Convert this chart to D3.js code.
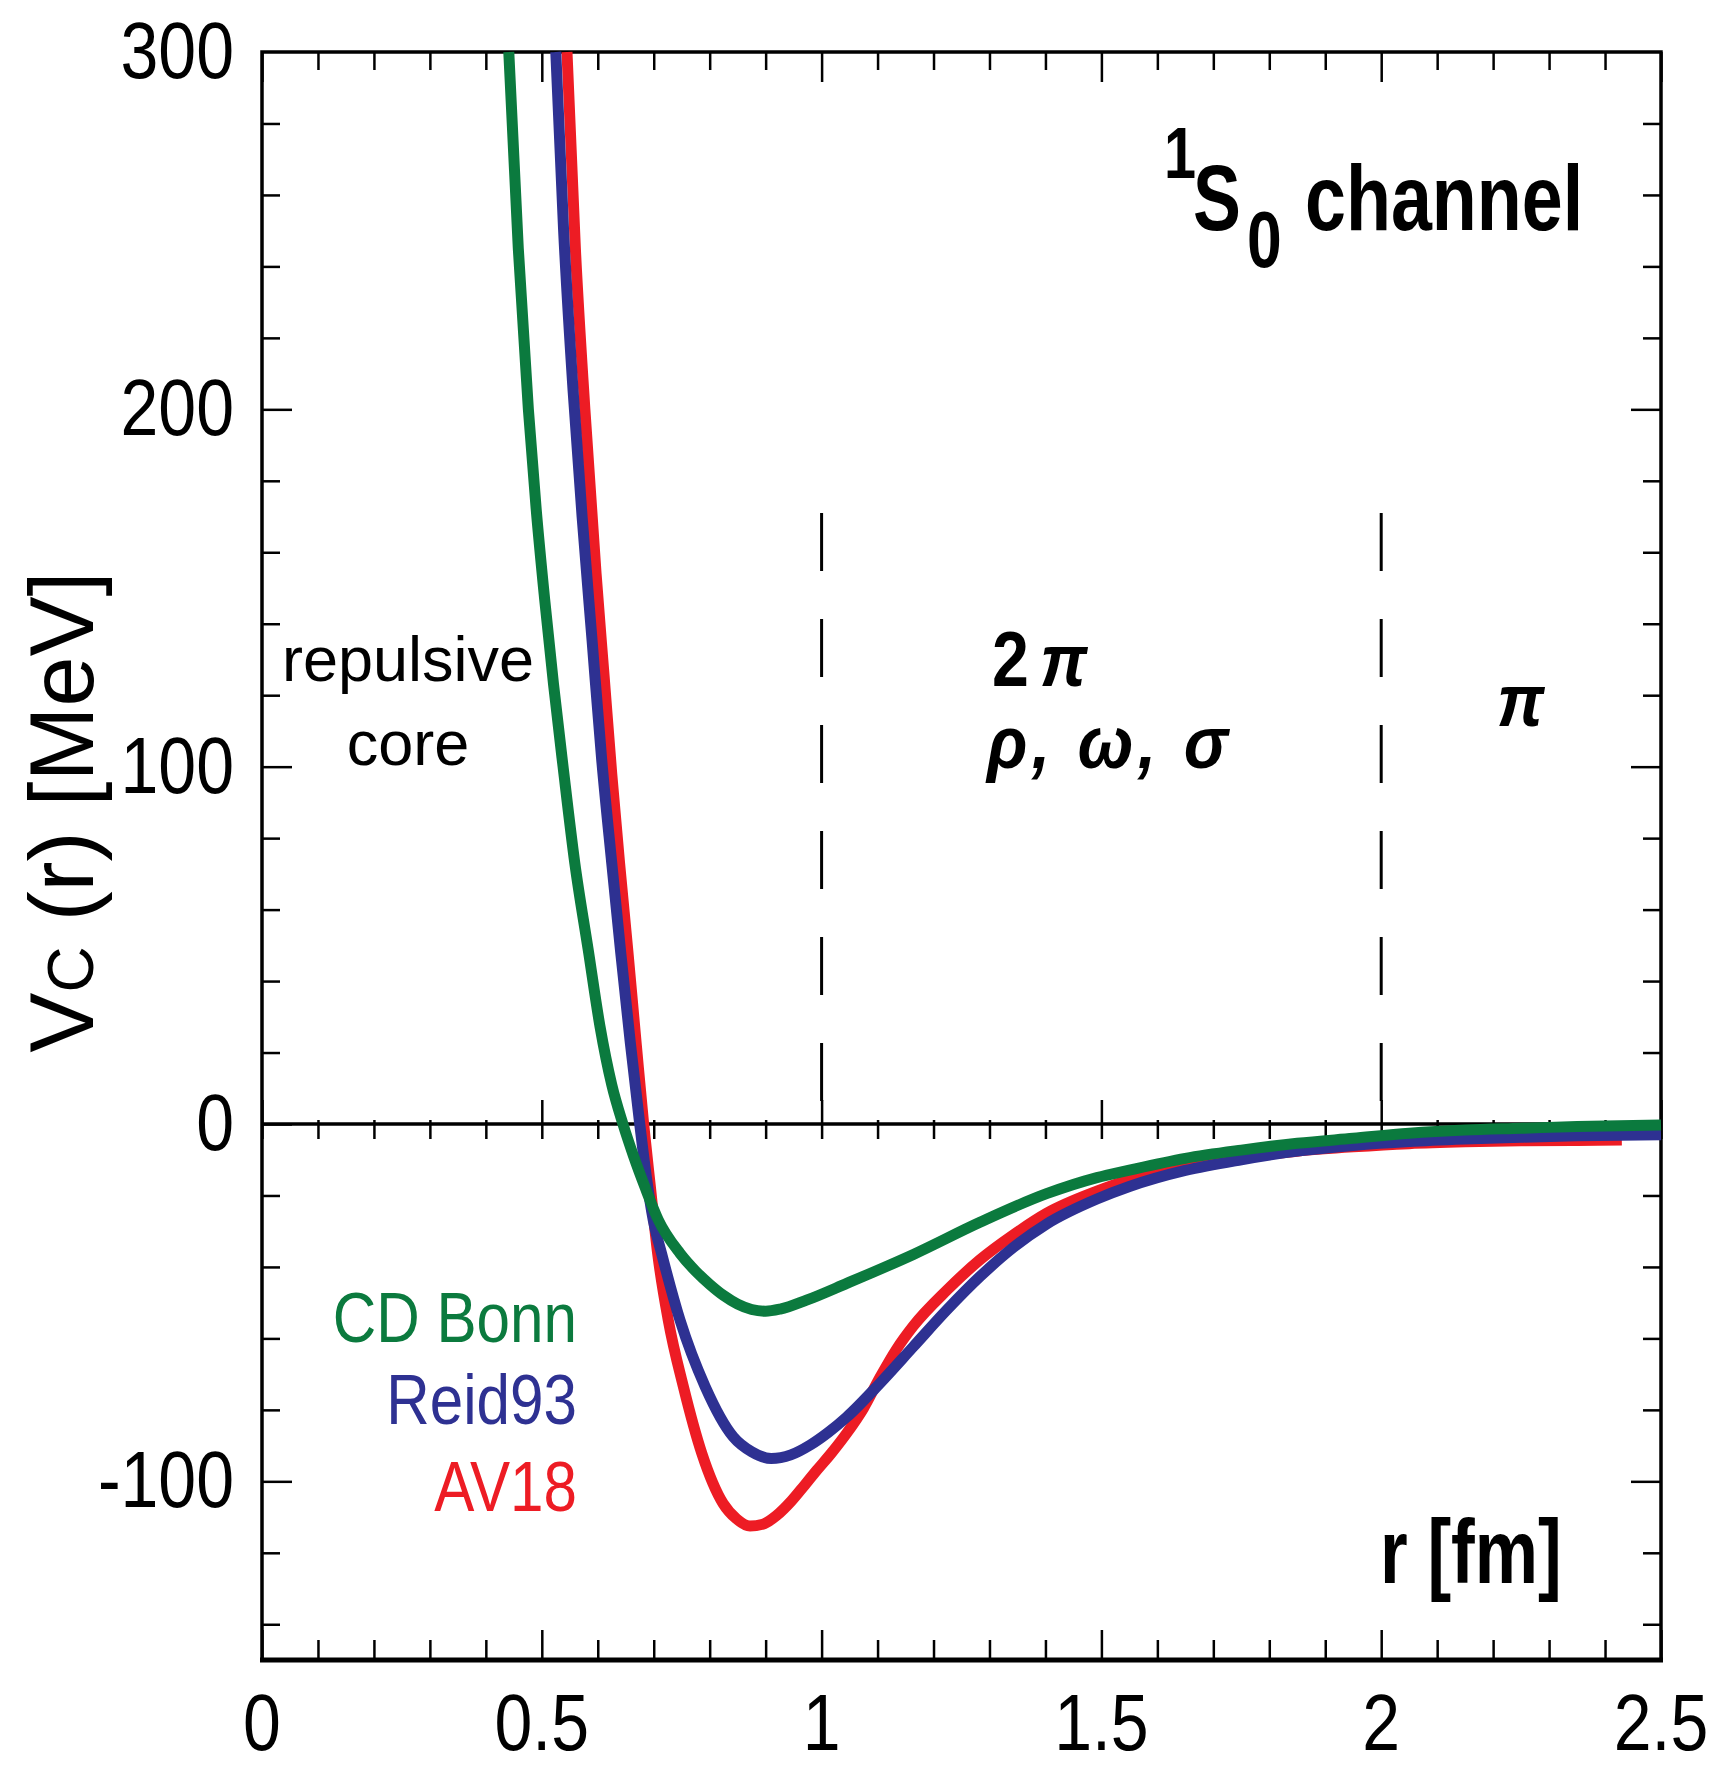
<!DOCTYPE html>
<html><head><meta charset="utf-8">
<script src="https://cdn.jsdelivr.net/npm/d3@7"></script>
<style>body{margin:0;background:#fff}</style>
</head><body>
<svg id="chart" width="1731" height="1771"></svg>
<script>
// ---------- data ----------
const cdBonnR = [0.441,0.458,0.476,0.490,0.505,0.521,0.538,0.559,0.583,0.604,0.625,0.645,0.664,0.684,0.708,0.747,0.775,0.801,0.825,0.850,0.875,0.900,0.926,0.973,1.045,1.164,1.283,1.402,1.492,1.55,1.65,1.75,1.85,1.95,2.05,2.15,2.25,2.35,2.50];
const cdBonnV = [300,245,200,172,147,123,100,73,48.7,27.3,11,0,-9,-17.5,-26.8,-36.2,-41.2,-45,-48,-50.4,-51.9,-52.4,-51.8,-49.3,-44.6,-36.5,-27.5,-19.5,-15,-12.9,-9.6,-7.3,-5.4,-4.0,-2.6,-1.7,-1.2,-0.7,-0.3];
const reid93R = [0.525,0.539,0.556,0.572,0.590,0.607,0.625,0.641,0.658,0.675,0.687,0.699,0.714,0.747,0.792,0.842,0.875,0.910,0.945,0.980,1.012,1.045,1.104,1.164,1.224,1.283,1.343,1.402,1.492,1.55,1.65,1.75,1.85,1.95,2.05,2.15,2.25,2.35,2.50];
const reid93V = [300,250,205,170,135,102,73,48,23,0,-15,-26.8,-36.2,-54.9,-73.5,-87.5,-91.7,-93.6,-92.6,-89.8,-86.3,-82,-72.6,-62.3,-52,-42.7,-34.5,-28,-21,-17.5,-13,-10,-7.6,-6.0,-4.9,-4.2,-3.7,-3.3,-3.0];
const av18R = [0.545,0.560,0.577,0.597,0.611,0.625,0.639,0.654,0.669,0.682,0.694,0.707,0.726,0.753,0.786,0.824,0.848,0.872,0.895,0.920,0.946,0.970,0.991,1.018,1.045,1.075,1.104,1.134,1.164,1.224,1.283,1.343,1.402,1.492,1.55,1.65,1.75,1.85,1.95,2.05,2.15,2.25,2.35,2.43];
const av18V = [300,245,200,154,126,98,73,48,22,0,-17.5,-36.2,-54.9,-73.5,-92.2,-106.2,-110.5,-112.5,-112,-109.5,-105.5,-101,-97,-92,-86.5,-79.5,-71,-63,-56.5,-46.5,-38,-31,-25,-18.8,-15.6,-12,-9.4,-7.6,-6.4,-5.5,-5.0,-4.7,-4.6,-4.5];

const seriesNames = ["CD Bonn","Reid93","AV18"];
const seriesColors = ["#0b7a3e","#2e3192","#ed1c24"];

const xTickValues = [0,0.5,1,1.5,2,2.5];
const xTickLabels = ["0","0.5","1","1.5","2","2.5"];
const yTickValues = [-100,0,100,200,300];
const yTickLabels = ["-100","0","100","200","300"];
const regionBounds = [1,2];
const regionTop = 171;

// ---------- layout ----------
const m = {left:262, right:1661, top:52, bottom:1660};
const x = d3.scaleLinear().domain([0,2.5]).range([m.left,m.right]);
const y = d3.scaleLinear().domain([-150,300]).range([m.bottom,m.top]);
const svg = d3.select('#chart');
const FONT = "'Liberation Sans', Arial, Helvetica, sans-serif";

const xMinor = d3.range(0,26).filter(i=>i%5!==0).map(i=>i/10);
const yMinor = d3.range(-140,301,20).filter(v=>v%100!==0);
const yMajor = [-100,0,100,200];

function axisG(axis, tx, ty, sw){
  const g = svg.append('g').attr('transform',`translate(${tx},${ty})`).call(axis);
  g.select('.domain').remove();
  g.selectAll('line').attr('stroke','#000').attr('stroke-width',sw||2.5);
  g.selectAll('text').remove();
  return g;
}
// bottom
axisG(d3.axisBottom(x).tickValues(xMinor).tickSize(-20).tickFormat(''),0,m.bottom);
axisG(d3.axisBottom(x).tickValues(xTickValues).tickSize(-30).tickFormat(''),0,m.bottom);
// top
axisG(d3.axisTop(x).tickValues(xMinor).tickSize(-18).tickFormat(''),0,m.top);
axisG(d3.axisTop(x).tickValues(xTickValues).tickSize(-30).tickFormat(''),0,m.top);
// left
axisG(d3.axisLeft(y).tickValues(yMinor).tickSize(-18).tickFormat(''),m.left,0);
axisG(d3.axisLeft(y).tickValues(yMajor).tickSize(-30).tickFormat(''),m.left,0);
// right
axisG(d3.axisRight(y).tickValues(yMinor).tickSize(-18).tickFormat(''),m.right,0);
axisG(d3.axisRight(y).tickValues(yMajor).tickSize(-30).tickFormat(''),m.right,0);

// zero line with ticks
svg.append('line').attr('x1',x(0)).attr('x2',x(2.5)).attr('y1',y(0)).attr('y2',y(0))
  .attr('stroke','#000').attr('stroke-width',3.5);
axisG(d3.axisBottom(x).tickValues(xMinor).tickSize(15).tickFormat(''),0,y(0)).selectAll('line').attr('y1',-4);
axisG(d3.axisBottom(x).tickValues(xTickValues).tickSize(15).tickFormat(''),0,y(0)).selectAll('line').attr('y1',-24);

// dashed region boundaries
svg.selectAll('line.bound').data(regionBounds).enter().append('line').attr('class','bound')
  .attr('x1',d=>x(d)).attr('x2',d=>x(d)).attr('y1',y(regionTop)).attr('y2',y(0))
  .attr('stroke','#000').attr('stroke-width',3).attr('stroke-dasharray','58 48');

// frame
svg.append('rect').attr('x',m.left).attr('y',m.top).attr('width',m.right-m.left).attr('height',m.bottom-m.top)
  .attr('fill','none').attr('stroke','#000').attr('stroke-width',3.5);
svg.append('line').attr('x1',m.left-2).attr('x2',m.right+2).attr('y1',m.bottom).attr('y2',m.bottom)
  .attr('stroke','#000').attr('stroke-width',5);

// curves
const line = d3.line().x(d=>x(d[0])).y(d=>y(d[1])).curve(d3.curveMonotoneX);
const series = [
  {name:"AV18", R:av18R, V:av18V, c:seriesColors[2]},
  {name:"Reid93", R:reid93R, V:reid93V, c:seriesColors[1]},
  {name:"CD Bonn", R:cdBonnR, V:cdBonnV, c:seriesColors[0]}
];
series.forEach(s=>{
  svg.append('path').datum(s.R.map((r,i)=>[r,s.V[i]])).attr('d',line)
    .attr('fill','none').attr('stroke',s.c).attr('stroke-width',11).attr('stroke-linejoin','round');
});

// text helper
function txt(xp, yp, str, size, opts){
  opts = opts||{};
  const t = svg.append('text')
    .attr('transform',`translate(${xp},${yp}) scale(${opts.sx||1},1)`)
    .attr('text-anchor',opts.anchor||'start')
    .style('font-family',FONT).style('font-size',size+'px')
    .style('font-weight',opts.weight||'normal').style('font-style',opts.style||'normal')
    .style('letter-spacing',(opts.ls||0)+'px')
    .attr('fill',opts.fill||'#000').text(str);
  return t;
}

// tick labels
xTickValues.forEach((v,i)=>txt(x(v),1750,xTickLabels[i],80,{sx:0.85,anchor:'middle'}));
yTickValues.forEach((v,i)=>txt(234,y(v)+26,yTickLabels[i],80,{sx:0.85,anchor:'end'}));

// y axis title
const yl = svg.append('text').attr('transform','translate(93,812) rotate(-90)')
  .attr('text-anchor','middle').style('font-family',FONT).style('font-size','90px');
yl.append('tspan').text('V');
yl.append('tspan').style('font-size','64px').text('C');
yl.append('tspan').text(' (r) [MeV]');

// x axis title
txt(1380,1583,'r [fm]',90,{sx:0.79,weight:'bold'});

// title
txt(1164,178,'1',72,{sx:0.8,weight:'bold'});
txt(1193,230,'S',92,{sx:0.78,weight:'bold'});
txt(1247,267,'0',80,{sx:0.78,weight:'bold'});
txt(1305,230,'channel',92,{sx:0.8,weight:'bold'});

// region annotations
txt(408,681,'repulsive',63,{anchor:'middle'});
txt(408,765,'core',63,{anchor:'middle'});
txt(992,686,'2',78,{sx:0.85,weight:'bold'});
txt(1040,686,'π',74,{sx:0.9,weight:'bold',style:'italic'});
txt(987,768,'ρ, ω, σ',74,{sx:0.9,weight:'bold',style:'italic',ls:5});
txt(1497,726,'π',74,{sx:0.9,weight:'bold',style:'italic'});

// legend
const legY = [1342,1424,1511];
seriesNames.forEach((n,i)=>txt(577,legY[i],n,70,{sx:0.86,anchor:'end',fill:seriesColors[i]}));
</script>
</body></html>
